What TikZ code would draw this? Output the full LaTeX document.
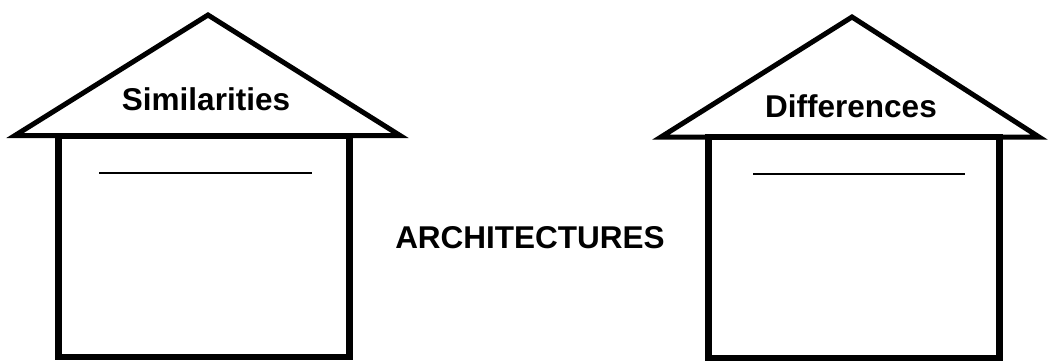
\documentclass[tikz,border=0pt]{standalone}
\usepackage{fontspec}
\setmainfont{Liberation Sans}
\usepackage{tikz}
\usetikzlibrary{calc,positioning}

\begin{document}
\begin{tikzpicture}[
      x=1pt, y=-1pt,
      wall/.style={draw, line width=6.5pt, minimum width=291pt,
        minimum height=221pt, inner sep=0pt},
      roof/.style={draw, line width=5pt, line join=miter, miter limit=10},
      title/.style={font=\bfseries\fontsize{31.5}{36}\selectfont,
        inner sep=0pt, anchor=base},
      blank/.style={line width=1.2pt}
    ]
    \useasboundingbox (0,0) rectangle (1049,361);

    % left house
    \node[wall] (simbox) at (203.75,246.25) {};
    \coordinate (simtop) at (208,15);
    \coordinate (simleft) at (15,135.5);
    \coordinate (simright) at (400,135.5);
    \draw[roof] (simtop) -- (simleft) -- (simright) -- cycle;
    \node[title] (simlbl) at (206,110) {Similarities};
    \draw[blank] (99,173) -- (312,173);

    % right house
    \node[wall] (difbox) at (854,247.5) {};
    \coordinate (diftop) at (852,17);
    \coordinate (difleft) at (661,137);
    \coordinate (difright) at (1039,137);
    \draw[roof] (diftop) -- (difleft) -- (difright) -- cycle;
    \node[title] (diflbl) at (851,117) {Differences};
    \draw[blank] (753,174) -- (965,174);

    \node[title] (arch) at (530,248) {ARCHITECTURES};
  \end{tikzpicture}
\end{document}
